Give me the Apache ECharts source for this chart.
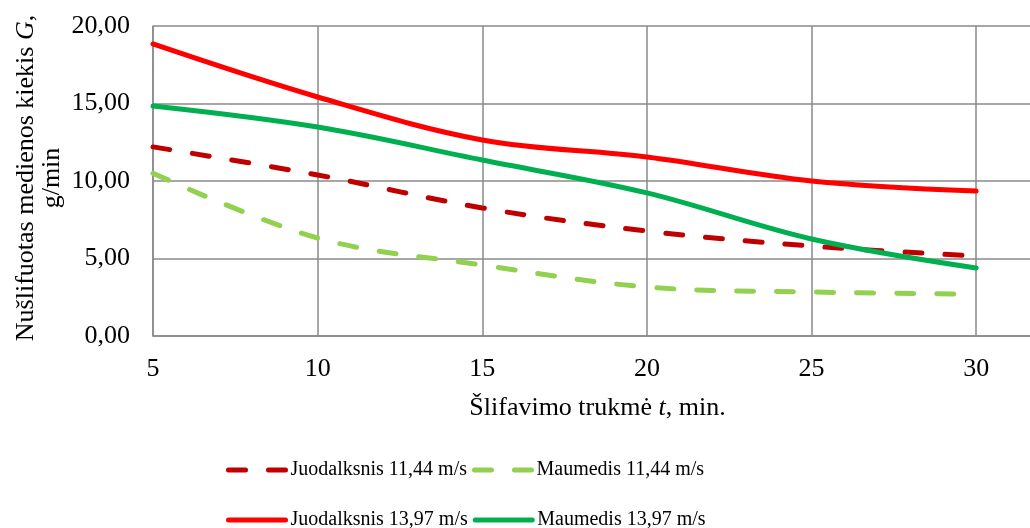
<!DOCTYPE html>
<html><head><meta charset="utf-8">
<script src="https://cdn.jsdelivr.net/npm/echarts@6/dist/echarts.min.js"></script>
<style>html,body{margin:0;padding:0;background:#fff}#c{width:1030px;height:528px}</style>
</head><body><div id="c"></div>
<script>
const times = [5, 10, 15, 20, 25, 30];
const juod1144 = [12.2, 10.39, 8.26, 6.77, 5.8, 5.16];
const maum1144 = [10.5, 6.32, 4.58, 3.16, 2.84, 2.7];
const juod1397 = [18.84, 15.42, 12.65, 11.55, 10.0, 9.35];
const maum1397 = [14.84, 13.48, 11.35, 9.23, 6.26, 4.39];
const names = ['Juodalksnis 11,44 m/s', 'Maumedis 11,44 m/s', 'Juodalksnis 13,97 m/s', 'Maumedis 13,97 m/s'];

const font = 'Liberation Serif';
const grey = '#8a8a8a';
function pts(v){ return times.map((t,i)=>[t, v[i]]); }
function ser(name, vals, color, dashed){
  return {name, type:'line', smooth:0.35, symbol:'none', data:pts(vals),
    lineStyle:{color, width:5, type: dashed ? [17,23] : 'solid', cap:'round'},
    itemStyle:{color}};
}
const legendCommon = {left:221, itemWidth:57, itemHeight:10, itemGap:5,
  itemStyle:{opacity:0}, lineStyle:{width:5},
  textStyle:{fontSize:20, fontFamily:font, color:'#000'}};
const rich = {a:{fontSize:26, fontFamily:font, color:'#000', lineHeight:28},
              i:{fontSize:26, fontFamily:font, fontStyle:'italic', color:'#000', lineHeight:28}};
const richY = {a:{fontSize:26, fontFamily:font, color:'#000', lineHeight:26},
               i:{fontSize:26, fontFamily:font, fontStyle:'italic', color:'#000', lineHeight:26}};
const chart = echarts.init(document.getElementById('c'), null, {renderer:'canvas'});
chart.setOption({
  animation:false,
  textStyle:{fontFamily:font},
  grid:{left:153, top:26, right:-12, height:310, containLabel:false, outerBoundsMode:'none'},
  xAxis:{type:'value', min:5, max:32, interval:5,
    axisLine:{show:true, onZero:false, lineStyle:{color:grey, width:1.5}},
    axisTick:{show:false},
    splitLine:{show:true, lineStyle:{color:grey, width:1.5}},
    axisLabel:{color:'#000', fontSize:26, fontFamily:font, margin:20, showMaxLabel:false},
    name:'{a|Šlifavimo trukmė }{i|t}{a|, min.}', nameLocation:'middle', nameGap:58,
    nameTextStyle:{rich}
  },
  yAxis:{type:'value', min:0, max:20, interval:5,
    axisLine:{show:true, lineStyle:{color:grey, width:1.5}},
    axisTick:{show:false},
    splitLine:{show:true, lineStyle:{color:grey, width:1.5}},
    axisLabel:{color:'#000', fontSize:26, fontFamily:font, margin:23, formatter:v=>v.toFixed(2).replace('.', ',')}
  },
  graphic:[{type:'text', x:39, y:178, rotation:Math.PI/2,
    style:{text:'{a|Nušlifuotas medienos kiekis }{i|G}{a|,}\n{a|g/min}', rich:richY, align:'center', verticalAlign:'middle'}}],
  legend:[
    Object.assign({data:[names[0], names[1]], top:455}, legendCommon),
    Object.assign({data:[names[2], names[3]], top:505}, legendCommon)
  ],
  series:[
    ser(names[0], juod1144, '#C00000', true),
    ser(names[1], maum1144, '#92D050', true),
    ser(names[2], juod1397, '#FF0000', false),
    ser(names[3], maum1397, '#00B050', false)
  ]
});
</script></body></html>
